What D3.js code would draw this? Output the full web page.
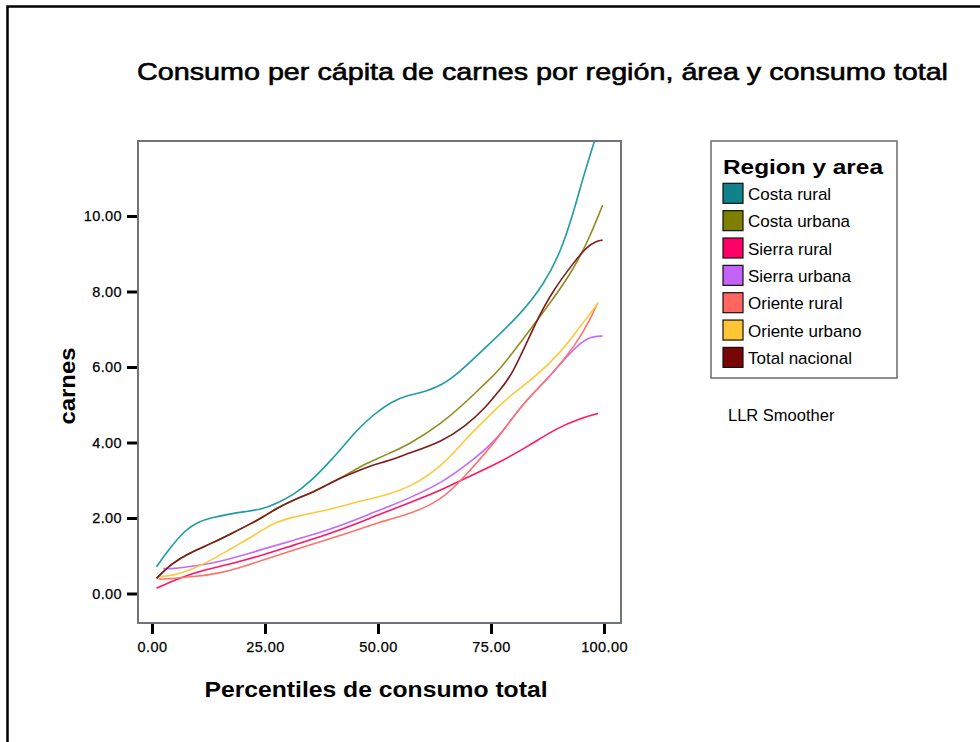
<!DOCTYPE html>
<html>
<head>
<meta charset="utf-8">
<script src="https://cdn.jsdelivr.net/npm/d3@7"></script>
<style>
  html, body { margin: 0; padding: 0; background: #ffffff; }
  svg { display: block; }
  text { font-family: "Liberation Sans", Arial, sans-serif; }
</style>
</head>
<body>
<svg id="chart" width="980" height="742"></svg>
<script>
// ---------- DATA ----------
const seriesNames = ["Costa rural", "Costa urbana", "Sierra rural", "Sierra urbana", "Oriente rural", "Oriente urbano", "Total nacional"];

const costaRuralX = [1, 3.6, 7.3, 10.2, 13.2, 16.9, 20.6, 24.3, 27.6, 31.3, 35, 38.6, 42.3, 45.3, 49.3, 53, 56.7, 60.4, 64.1, 67.8, 74.8, 81.4, 86.6, 90.3, 93.2, 95.4, 98.2];
const costaRuralY = [0.71, 1.15, 1.68, 1.90, 2.01, 2.10, 2.17, 2.23, 2.39, 2.61, 2.96, 3.40, 3.89, 4.33, 4.77, 5.08, 5.26, 5.34, 5.52, 5.83, 6.63, 7.38, 8.17, 9.01, 10.07, 11.04, 12.1];

const costaUrbanaX = [1, 4.4, 8, 13.2, 17.6, 22.1, 24.6, 27.6, 31.3, 35, 38.6, 42.3, 46, 49.3, 52, 56.7, 64.1, 69.2, 73.7, 76.6, 81.4, 88.1, 93.2, 96.9, 99.7];
const costaUrbanaY = [0.40, 0.80, 1.06, 1.33, 1.59, 1.86, 2.03, 2.26, 2.48, 2.65, 2.87, 3.09, 3.36, 3.54, 3.69, 3.93, 4.51, 5.04, 5.57, 5.88, 6.63, 7.69, 8.57, 9.45, 10.29];

const sierraRuralX = [1, 5.8, 10.2, 14.7, 19.1, 24.6, 31.3, 38.6, 46, 49.3, 56.7, 64.1, 68.5, 76.6, 83.6, 89.5, 94.7, 98.7];
const sierraRuralY = [0.14, 0.40, 0.58, 0.71, 0.84, 1.02, 1.28, 1.55, 1.88, 2.05, 2.39, 2.74, 3.01, 3.45, 3.93, 4.38, 4.64, 4.77];

const sierraUrbanaX = [2.5, 4.5, 9.5, 13.2, 17.6, 22.1, 24.6, 31.3, 38.6, 46, 49.3, 52, 56.7, 64.1, 71.5, 76.6, 81.4, 87.3, 91.7, 94.7, 96.9, 99.7];
const sierraUrbanaY = [0.66, 0.65, 0.73, 0.80, 0.93, 1.08, 1.18, 1.41, 1.66, 1.99, 2.17, 2.28, 2.52, 2.92, 3.58, 4.11, 4.95, 5.66, 6.27, 6.63, 6.80, 6.82];

const orienteRuralX = [1.5, 5, 9.5, 14.7, 19.1, 24.6, 31.3, 38.6, 46, 49.3, 56.7, 64.1, 68.5, 73.7, 77.7, 82.1, 88.1, 94, 96.9, 98.4];
const orienteRuralY = [0.38, 0.40, 0.45, 0.53, 0.67, 0.89, 1.15, 1.42, 1.70, 1.86, 2.08, 2.48, 3.01, 3.71, 4.30, 5.05, 5.74, 6.63, 7.25, 7.65];

const orienteUrbanoX = [1.5, 4.4, 9.5, 13.2, 17.6, 22.1, 24.6, 27.6, 31.3, 35, 38.6, 42.3, 46, 49.3, 52, 56.7, 64.1, 69.2, 73.7, 76.6, 79.9, 84.4, 90.3, 94.7, 97.6, 98.7];
const orienteUrbanoY = [0.45, 0.46, 0.67, 0.89, 1.20, 1.50, 1.70, 1.90, 2.03, 2.12, 2.21, 2.32, 2.45, 2.53, 2.62, 2.79, 3.36, 4.07, 4.60, 4.95, 5.30, 5.70, 6.36, 7.07, 7.51, 7.71];

const totalNacionalX = [1, 4.4, 8, 13.2, 17.6, 22.1, 24.6, 27.6, 31.3, 35, 38.6, 42.3, 46, 49.3, 52, 56.7, 64.1, 69.2, 73.7, 76.6, 79.6, 85.1, 88.8, 93.2, 96.2, 98.4, 99.7];
const totalNacionalY = [0.40, 0.80, 1.06, 1.33, 1.59, 1.86, 2.03, 2.26, 2.48, 2.65, 2.87, 3.09, 3.27, 3.42, 3.50, 3.71, 4.02, 4.42, 4.91, 5.35, 5.75, 7.25, 8.04, 8.75, 9.19, 9.34, 9.36];

const xTicks = [0, 25, 50, 75, 100];
const yTicks = [0, 2, 4, 6, 8, 10];

const lineColors   = ["#1f9ca3", "#8e8e22", "#ff1766", "#c46bff", "#ff7468", "#ffc93a", "#7e1c1c"];
const swatchColors = ["#10828c", "#7f7f00", "#ff0066", "#c362f5", "#ff6660", "#ffc535", "#780606"];

const chartTitle = "Consumo per cápita de carnes por región, área y consumo total";
const xTitle = "Percentiles de consumo total";
const yTitle = "carnes";
const legendTitle = "Region y area";
const noteText = "LLR Smoother";

// ---------- BUILD ----------
const seriesXs = [costaRuralX, costaUrbanaX, sierraRuralX, sierraUrbanaX, orienteRuralX, orienteUrbanoX, totalNacionalX];
const seriesYs = [costaRuralY, costaUrbanaY, sierraRuralY, sierraUrbanaY, orienteRuralY, orienteUrbanoY, totalNacionalY];
const series = seriesNames.map((name, i) => ({
  name, line: lineColors[i], swatch: swatchColors[i],
  points: seriesXs[i].map((x, j) => ({ x, y: seriesYs[i][j] }))
}));

const svg = d3.select("#chart");
svg.append("rect").attr("width", 980).attr("height", 742).attr("fill", "#ffffff");

// outer frame (extends beyond the picture on right and bottom)
svg.append("rect").attr("x", 7.5).attr("y", 6.5).attr("width", 1200).attr("height", 1000)
  .attr("fill", "none").attr("stroke", "#000").attr("stroke-width", 2.5);

const x = d3.scaleLinear().domain([0, 100]).range([152, 604]);
const y = d3.scaleLinear().domain([0, 10]).range([593.5, 216]);

const frameL = 138, frameR = 621, frameT = 141, frameB = 623;

svg.append("defs").append("clipPath").attr("id", "plotClip")
  .append("rect").attr("x", frameL).attr("y", frameT).attr("width", frameR - frameL).attr("height", frameB - frameT);

// title
svg.append("text").attr("x", 137).attr("y", 80)
  .attr("font-size", 24).attr("fill", "#000")
  .attr("stroke", "#000").attr("stroke-width", 0.6)
  .attr("textLength", 811).attr("lengthAdjust", "spacingAndGlyphs")
  .text(chartTitle);

// lines
const lineGen = d3.line().x(d => x(d.x)).y(d => y(d.y)).curve(d3.curveBasis);
const gLines = svg.append("g").attr("clip-path", "url(#plotClip)");
gLines.selectAll("path").data(series).join("path")
  .attr("d", d => lineGen(d.points))
  .attr("fill", "none").attr("stroke", d => d.line).attr("stroke-width", 1.6)
  .attr("stroke-linejoin", "round");

// frame
svg.append("rect").attr("x", frameL).attr("y", frameT).attr("width", frameR - frameL).attr("height", frameB - frameT)
  .attr("fill", "none").attr("stroke", "#70737a").attr("stroke-width", 2);

// y axis
const yAxis = d3.axisLeft(y).tickValues(yTicks).tickSize(10).tickPadding(5).tickFormat(d3.format(".2f"));
const gy = svg.append("g").attr("transform", `translate(${frameL - 1},0)`).call(yAxis);
gy.select(".domain").remove();
gy.selectAll(".tick line").attr("stroke", "#000").attr("stroke-width", 3);
gy.selectAll(".tick text").attr("font-size", 14.5).attr("fill", "#000")
  .attr("stroke", "#000").attr("stroke-width", 0.25)
  .attr("font-family", "'Liberation Sans', Arial, sans-serif").attr("letter-spacing", 0.4);

// x axis
const xAxis = d3.axisBottom(x).tickValues(xTicks).tickSize(10).tickPadding(8).tickFormat(d3.format(".2f"));
const gx = svg.append("g").attr("transform", `translate(0,${frameB + 1})`).call(xAxis);
gx.select(".domain").remove();
gx.selectAll(".tick line").attr("stroke", "#000").attr("stroke-width", 3);
gx.selectAll(".tick text").attr("font-size", 14.5).attr("fill", "#000")
  .attr("stroke", "#000").attr("stroke-width", 0.25)
  .attr("font-family", "'Liberation Sans', Arial, sans-serif").attr("letter-spacing", 0.4);

// axis titles
svg.append("text").attr("x", 376).attr("y", 697).attr("text-anchor", "middle")
  .attr("font-size", 22).attr("font-weight", "bold").attr("fill", "#000")
  .attr("textLength", 343).attr("lengthAdjust", "spacingAndGlyphs")
  .text(xTitle);
svg.append("text").attr("transform", "translate(75,386) rotate(-90)").attr("text-anchor", "middle")
  .attr("font-size", 22).attr("font-weight", "bold").attr("fill", "#000")
  .attr("textLength", 77).attr("lengthAdjust", "spacingAndGlyphs")
  .text(yTitle);

// legend
const lg = svg.append("g");
lg.append("rect").attr("x", 711).attr("y", 141).attr("width", 186).attr("height", 237)
  .attr("fill", "#fff").attr("stroke", "#6a6a6a").attr("stroke-width", 1.5);
lg.append("text").attr("x", 723).attr("y", 173.5).attr("font-size", 20).attr("font-weight", "bold")
  .attr("fill", "#000").attr("textLength", 160).attr("lengthAdjust", "spacingAndGlyphs").text(legendTitle);
const rows = lg.selectAll("g.row").data(series).join("g").attr("class", "row")
  .attr("transform", (d, i) => `translate(0,${193.3 + i * 27.35})`);
rows.append("rect").attr("x", 723).attr("y", -10).attr("width", 20).attr("height", 20)
  .attr("fill", d => d.swatch).attr("stroke", "#111").attr("stroke-width", 1.2);
rows.append("text").attr("x", 748).attr("y", 6.5).attr("font-size", 17).attr("fill", "#000")
  .text(d => d.name);

svg.append("text").attr("x", 728).attr("y", 421).attr("font-size", 16.5).attr("fill", "#000").text(noteText);
</script>
</body>
</html>
